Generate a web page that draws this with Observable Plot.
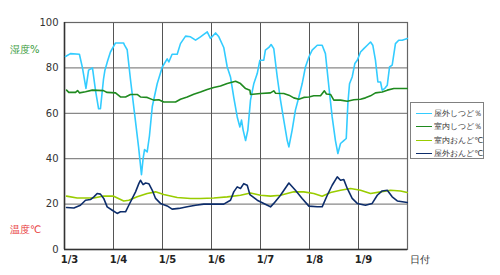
<!DOCTYPE html>
<html><head><meta charset="utf-8">
<script src="https://cdn.jsdelivr.net/npm/d3@7"></script>
<script src="https://cdn.jsdelivr.net/npm/@observablehq/plot@0.6"></script>
<style>
html,body{margin:0;padding:0;background:#fff;}
#wrap{position:relative;width:500px;height:275px;font-family:"DejaVu Sans",sans-serif;}
.lab{position:absolute;font-size:10px;white-space:nowrap;}
#legend{position:absolute;left:410px;top:102px;width:74px;height:57px;border:1px solid #808080;box-sizing:border-box;background:#fff;font-size:8px;color:#333;}
.row{position:absolute;left:5px;height:10px;display:flex;align-items:center;}
.sw{width:16px;height:0;border-top:1.5px solid;margin-right:2px;}
</style></head>
<body><div id="wrap"></div>
<script>
// ---- data (hours since 1/3 00:00) ----
const dateLabels = ["1/3","1/4","1/5","1/6","1/7","1/8","1/9"];
const seriesNames = ["屋外しつど％","室内しつど％","室内おんど℃","屋外おんど℃"];
const seriesColors = ["#33ccff","#1f8a1f","#99cc00","#0d2d6b"];

const outHumT = [0.5,2.9,7.3,8.8,10.5,11.8,13.7,15.2,16.7,17.6,19.1,19.8,21.1,22.5,25,28.9,29.4,30.7,32.3,34.3,36.3,37.7,38.5,39.2,40.5,41.6,43,45.4,47.9,50.3,51.1,52.7,55.2,56.8,59.3,61.7,64.2,66.6,69.9,71.5,74,75.6,78,79.7,81.3,82.9,84.6,85.9,86.7,87.5,88.7,89.8,91.1,92.7,94.4,95.7,97.6,98.4,100.1,101.2,102.5,104.2,105.8,107.4,109.1,109.9,111.5,113.1,114.8,116.4,118,119.7,121.3,123.8,126.2,127.8,129.5,131.1,132.7,133.9,135.2,136.8,138,138.8,139.6,140.9,142.2,143.4,145,146.6,148.3,149.9,151,152.3,153.5,154.8,155.6,156.9,158.1,159.2,160.5,162.1,163.7,165.4,167.9];
const outHumV = [85,86.3,86,80,71,79,80,70,62,62,75,79,83,87,91,91,90,88,75,60,45,33,40,44,43,50,63,73,80.4,84,82.6,86,86,90.7,94,93.7,92.2,93.7,95.9,93,95.4,93.7,89,80.4,76,67,58.4,54,57,52.6,48,52.6,65.8,73,77.5,83.4,83.4,87.8,89,90.3,88.5,76,65.8,57,48,45.2,52.6,61.4,67.2,73,80.4,84.8,87.8,90,90,86.3,71.6,58.4,48,42.3,46.7,48,48.9,64.3,73,76,81.9,83.4,87,88.5,90,91.4,90,83.4,73.8,73.8,70.2,71,72.4,80.4,81.2,90.7,92.2,92.2,93];

const inHumT = [1,2.1,5.4,6.4,7.3,10.3,13.6,19.1,20.9,25,27.4,29.9,32.3,35.6,37.2,40.5,43.7,46.2,48.6,54.4,56.8,60.1,63.3,66.6,69.9,73.1,76.4,79.7,83.8,86.2,88.7,90.8,91.1,96,100.9,102.5,103.4,107.4,109.9,112.3,114.8,117.2,119.7,122.1,125.4,127.3,128.3,130.3,131.9,135.2,138.5,141.7,145,147.4,149.9,152.3,155.6,158.1,161.3,167.9];
const inHumV = [70.2,69.2,69.2,70,69,69.5,70.2,70,69.2,69,67.2,67.2,68.3,68.3,67.2,67,65.8,66,65,65,66.2,67.2,68.4,69.4,70.5,71.4,72,73.1,74.1,73.1,70.9,70.2,68.3,68.7,69,69.9,68.8,68.7,68,66.8,66.2,67,67.2,67.7,67.7,69.9,68.5,68.3,65.8,65.8,65.3,66,66.2,66.8,67.7,69,69.4,70.2,70.9,70.9];

const inTmpT = [1,6.2,14.4,19.2,24.1,29,31.5,35.6,40.5,44.6,48.6,55.2,61.7,66.6,73.1,79.7,86.2,91.1,96,100.9,105.8,112.3,117.2,122.1,126.2,130.3,135.2,140.1,145,149.9,154.8,159.7,164.6,167.9];
const inTmpV = [23.5,22.7,22.7,23.6,23.5,21.4,21.7,23.2,24.7,25.4,24.2,22.9,22.5,22.5,22.7,23.2,23.9,24.9,23.9,23.5,23.9,25.4,25.4,24.7,23.5,25.1,26.1,26.9,26.1,24.7,25.4,26.1,25.8,25.1];

const outTmpT = [1,4.6,7.8,10.3,12.7,14.4,16,17.6,19.2,20.9,23.4,25.8,27.4,29.9,31.5,33.2,34.8,36.4,37.2,38.5,39.7,41.3,43,44.6,47,50.3,52.7,56,60.1,64.2,68.2,73.1,78,81.3,82.9,84.6,86.2,87.8,89.5,90.8,94.4,97.6,100.9,102.5,105.8,109.9,113.1,116.4,119.7,123.8,126.2,128.7,131.1,133.6,135.2,136.8,138.5,140.9,143.4,147.4,150.7,153.2,155.6,158.1,160.5,163,167.9];
const outTmpV = [18.5,18.3,19.5,21.7,22,23.2,24.7,24.4,22.5,18.8,17.3,15.9,16.6,16.6,19.5,22.5,25.4,29,30.5,28.6,29.3,29,26.1,22.5,20.3,19.2,17.8,18.1,18.8,19.5,20,20,20,21.7,25.4,27.6,26.9,29,28.3,24.2,21.7,20.3,18.8,20.3,23.9,29.3,26.1,22.5,19.1,18.8,18.8,23.9,28.3,32,30.5,30.8,26.9,22.5,20.3,19.5,20.3,23.9,25.8,26.1,23.2,21.4,20.7];

const yTicks = [0,20,40,60,80,100];
const xTicks = dateLabels.map((d,i)=>i*24);

const toRows = (T,V)=>T.map((t,i)=>({t, v:V[i]}));
const series = [toRows(outHumT,outHumV), toRows(inHumT,inHumV), toRows(inTmpT,inTmpV), toRows(outTmpT,outTmpV)];

const chart = Plot.plot({
  width: 500, height: 275,
  marginLeft: 64, marginRight: 93, marginTop: 22, marginBottom: 26,
  style: {fontFamily: "DejaVu Sans, sans-serif", background: "#fff"},
  x: {domain: [0,168]},
  y: {domain: [0,100]},
  marks: [
    Plot.gridY([20,40,60,80], {stroke: "#888", strokeOpacity: 1, strokeWidth: 1.2}),
    Plot.gridX(xTicks.slice(1), {stroke: "#555", strokeOpacity: 1, strokeWidth: 1}),
    Plot.frame({stroke: "#666", strokeWidth: 1.2}),
    Plot.ruleX([0], {stroke: "#333", strokeWidth: 1.5}),
    Plot.ruleY([0], {stroke: "#333", strokeWidth: 1.5}),
    ...series.map((s,i)=>Plot.line(s, {x: "t", y: "v", stroke: seriesColors[i], strokeWidth: 1.6})),
    Plot.axisY(yTicks, {tickSize: 0, tickPadding: 6, fontSize: 10, fill: "#333", label: null}),
    Plot.axisX(xTicks, {tickSize: 0, tickPadding: 6, fontSize: 10, fontWeight: "bold", fill: "#222", dx: 5, tickFormat: (d)=>dateLabels[d/24], label: null})
  ]
});
const wrap = document.getElementById("wrap");
wrap.appendChild(chart);

function addLabel(text, left, top, color){
  const d = document.createElement("div");
  d.className = "lab"; d.textContent = text;
  d.style.left = left+"px"; d.style.top = top+"px"; d.style.color = color;
  wrap.appendChild(d);
}
addLabel("湿度%", 10, 43, "#3a9a3a");
addLabel("温度℃", 10, 223, "#e83a3a");
addLabel("日付", 410, 253, "#333");

const lg = document.createElement("div"); lg.id = "legend";
const rowsTop = [5, 18, 32, 45];
seriesNames.forEach((n,i)=>{
  const r = document.createElement("div"); r.className = "row";
  r.style.top = rowsTop[i]+"px";
  const sw = document.createElement("div"); sw.className = "sw"; sw.style.borderTopColor = seriesColors[i];
  const tx = document.createElement("span"); tx.textContent = n;
  r.appendChild(sw); r.appendChild(tx); lg.appendChild(r);
});
wrap.appendChild(lg);
</script>
</body></html>
